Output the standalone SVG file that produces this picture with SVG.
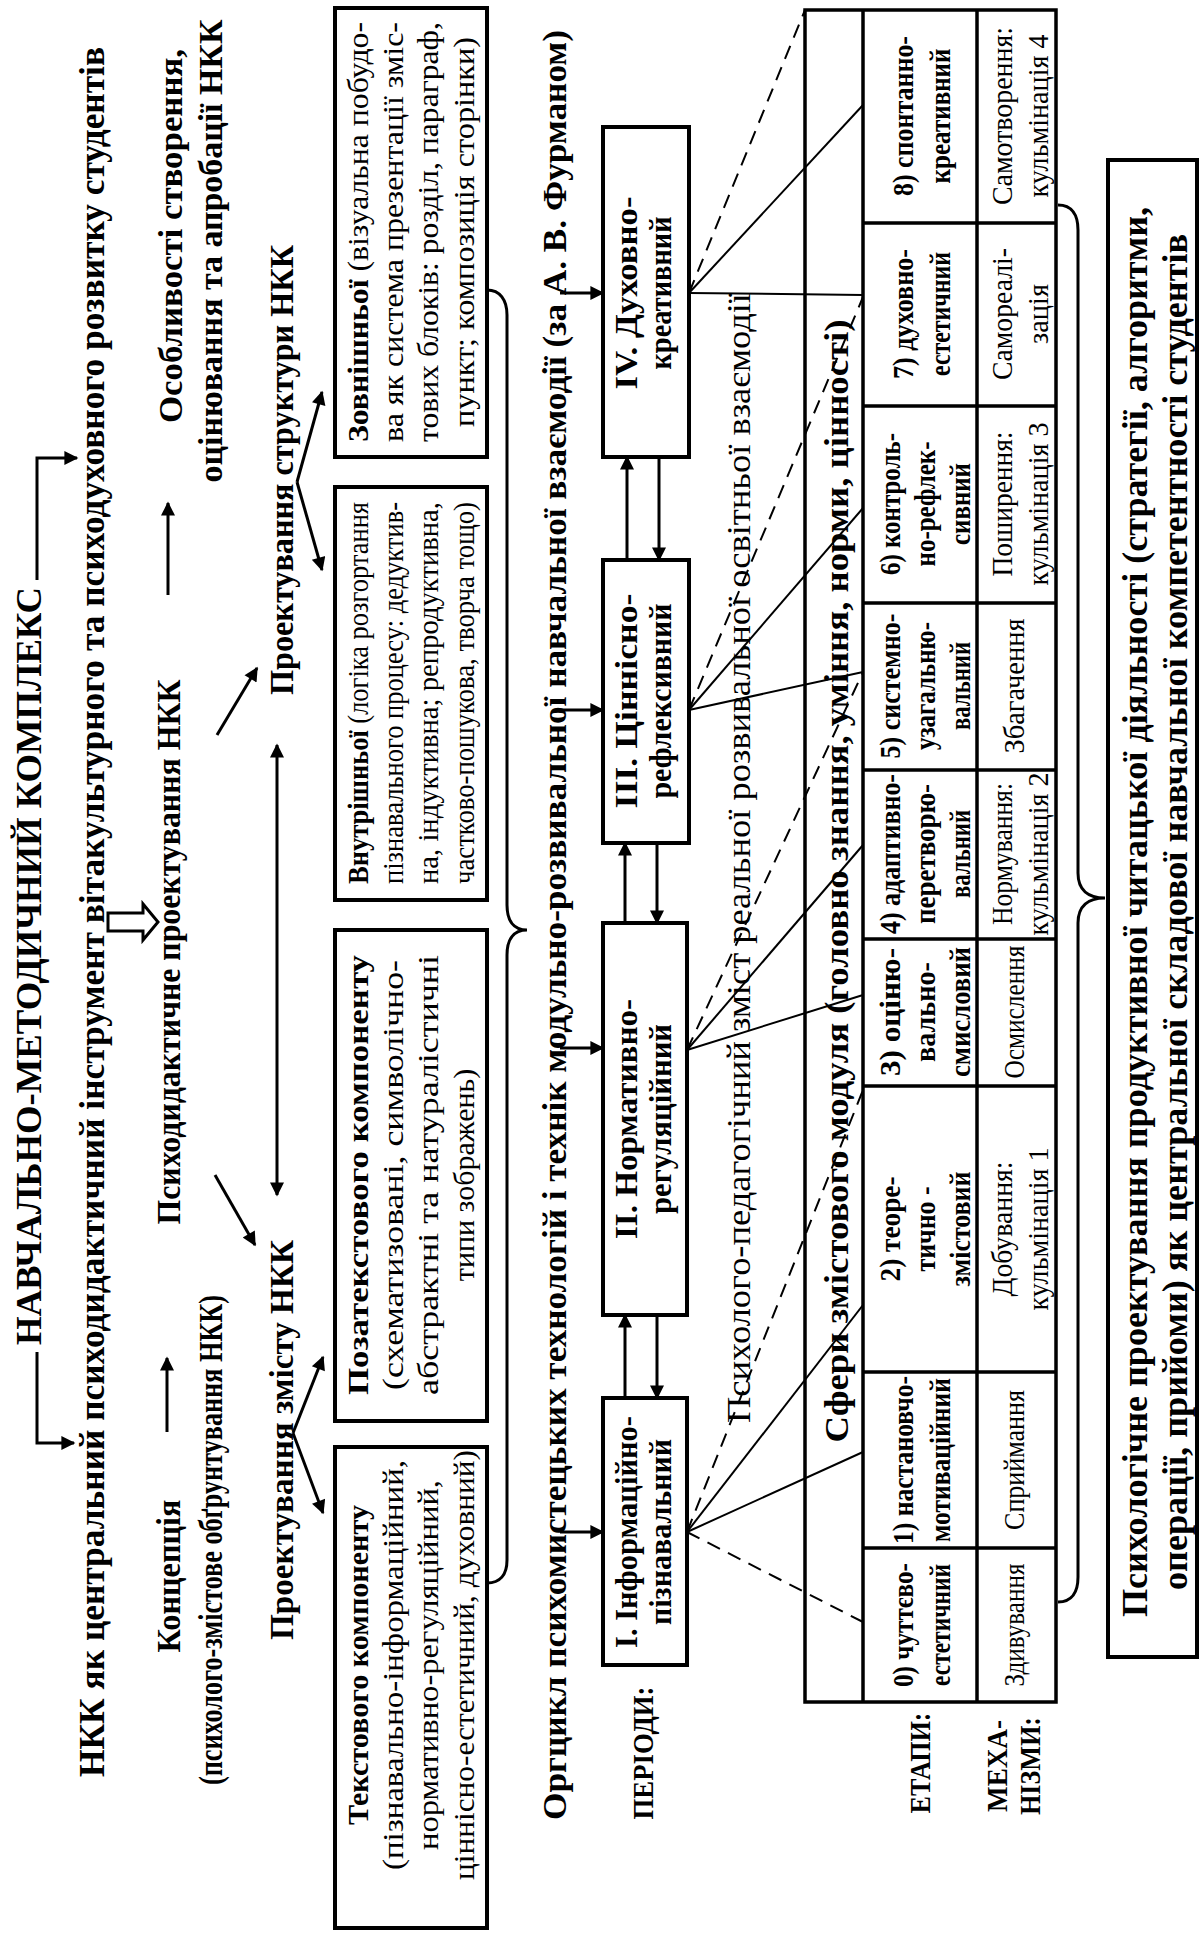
<svg xmlns="http://www.w3.org/2000/svg" width="1202" height="1943" viewBox="0 0 1202 1943">
<style>
text{text-anchor:middle;font-family:"Liberation Serif","Times New Roman",serif;fill:#000}
.b{font-weight:bold}
.box{fill:#fff;stroke:#000;stroke-width:4}
.ln{fill:none;stroke:#000;stroke-width:3}
.ar{fill:none;stroke:#000;stroke-width:3;marker-end:url(#ah)}
.fan{fill:none;stroke:#000;stroke-width:2}
.dash{fill:none;stroke:#000;stroke-width:2;stroke-dasharray:14 9}
.tb{fill:none;stroke:#000;stroke-width:3.5}
</style>
<defs>
<marker id="ah" viewBox="0 0 10 10" refX="9" refY="5" markerWidth="17" markerHeight="14" markerUnits="userSpaceOnUse" orient="auto-start-reverse"><path d="M0,0 L10,5 L0,10 z" fill="#000"/></marker>
</defs>
<rect width="1202" height="1943" fill="#fff"/>

<g id="connectors">
<polyline class="ar" points="37,580 37,458 77,458"/>
<polyline class="ar" points="37,1352 37,1443 74,1443"/>
<polygon points="108,913 143,913 143,904 158,922 143,940 143,931 108,931" fill="#fff" stroke="#000" stroke-width="3"/>
<line class="ar" x1="167" y1="1432" x2="167" y2="1358"/>
<line class="ar" x1="168" y1="595" x2="168" y2="503"/>
<line class="ar" x1="217" y1="735" x2="257" y2="668"/>
<line class="ar" x1="215" y1="1175" x2="255" y2="1245"/>
<line class="ar" x1="277" y1="745" x2="277" y2="1195" marker-start="url(#ah)"/>
<line class="ar" x1="293" y1="1433" x2="323" y2="1357"/>
<line class="ar" x1="293" y1="1433" x2="323" y2="1513"/>
<line class="ar" x1="297" y1="482" x2="322" y2="392"/>
<line class="ar" x1="297" y1="482" x2="322" y2="570"/>
<path class="ln" d="M487,290 C500,290 507,300 507,315 L507,905 C507,920 513,930 527,930 C513,930 507,940 507,955 L507,1560 C507,1575 500,1583 487,1583"/>
<line class="ar" x1="560" y1="1532" x2="603" y2="1532"/>
<line class="ar" x1="560" y1="1048" x2="603" y2="1048"/>
<line class="ar" x1="560" y1="710" x2="603" y2="710"/>
<line class="ar" x1="560" y1="293" x2="603" y2="293"/>
<line class="ar" x1="625" y1="1398" x2="625" y2="1315"/>
<line class="ar" x1="657" y1="1315" x2="657" y2="1398"/>
<line class="ar" x1="625" y1="923" x2="625" y2="843"/>
<line class="ar" x1="657" y1="843" x2="657" y2="923"/>
<line class="ar" x1="627" y1="560" x2="627" y2="457"/>
<line class="ar" x1="659" y1="457" x2="659" y2="560"/>
<line class="dash" x1="689" y1="293" x2="805" y2="10"/>
<line class="fan" x1="689" y1="293" x2="863" y2="105"/>
<line class="fan" x1="689" y1="293" x2="863" y2="295"/>
<line class="dash" x1="689" y1="710" x2="863" y2="297"/>
<line class="fan" x1="689" y1="710" x2="863" y2="508"/>
<line class="fan" x1="689" y1="710" x2="863" y2="672"/>
<line class="dash" x1="687" y1="1050" x2="863" y2="672"/>
<line class="fan" x1="687" y1="1050" x2="863" y2="845"/>
<line class="fan" x1="687" y1="1050" x2="863" y2="995"/>
<line class="dash" x1="687" y1="1532" x2="863" y2="1090"/>
<line class="fan" x1="687" y1="1532" x2="863" y2="1305"/>
<line class="fan" x1="687" y1="1532" x2="863" y2="1452"/>
<line class="dash" x1="687" y1="1532" x2="863" y2="1622"/>
<path class="ln" d="M1058,205 C1072,205 1078,215 1078,230 L1078,873 C1078,890 1088,898 1105,898 C1088,898 1078,906 1078,923 L1078,1577 C1078,1592 1072,1602 1058,1602"/>
</g>

<g id="title">
<text class="b" font-size="36" transform="translate(41,966) rotate(-90)" textLength="758" lengthAdjust="spacingAndGlyphs">НАВЧАЛЬНО-МЕТОДИЧНИЙ КОМПЛЕКС</text>
</g>
<g id="nkk">
<text class="b" font-size="36" transform="translate(104,912) rotate(-90)" textLength="1730" lengthAdjust="spacingAndGlyphs">НКК як центральний психодидактичний інструмент вітакультурного та психодуховного розвитку студентів</text>
</g>
<g id="concept">
<text class="b" font-size="34" transform="translate(180,1576) rotate(-90)" textLength="153" lengthAdjust="spacingAndGlyphs">Концепція</text>
<text class="b" font-size="33" transform="translate(222,1540) rotate(-90)" textLength="490" lengthAdjust="spacingAndGlyphs">(психолого-змістове обґрунтування НКК)</text>
</g>
<g id="psychodidactic">
<text class="b" font-size="34" transform="translate(180,952) rotate(-90)" textLength="545" lengthAdjust="spacingAndGlyphs">Психодидактичне проектування НКК</text>
</g>
<g id="features">
<text class="b" font-size="34" transform="translate(182,236) rotate(-90)" textLength="374" lengthAdjust="spacingAndGlyphs">Особливості створення,</text>
<text class="b" font-size="34" transform="translate(222,251) rotate(-90)" textLength="463" lengthAdjust="spacingAndGlyphs">оцінювання та апробації НКК</text>
</g>
<g id="design-content">
<text class="b" font-size="34" transform="translate(293,1440) rotate(-90)" textLength="400" lengthAdjust="spacingAndGlyphs">Проектування змісту НКК</text>
</g>
<g id="design-structure">
<text class="b" font-size="34" transform="translate(293,470) rotate(-90)" textLength="450" lengthAdjust="spacingAndGlyphs">Проектування структури НКК</text>
</g>

<g id="box-external">
<rect class="box" x="335" y="8" width="152" height="449"/>
<text font-size="30" transform="translate(368,232) rotate(-90)" textLength="420" lengthAdjust="spacingAndGlyphs"><tspan class="b">Зовнішньої</tspan> (візуальна побудо-</text>
<text font-size="30" transform="translate(403,232) rotate(-90)" textLength="420" lengthAdjust="spacingAndGlyphs">ва як система презентації зміс-</text>
<text font-size="30" transform="translate(438,232) rotate(-90)" textLength="420" lengthAdjust="spacingAndGlyphs">тових блоків: розділ, параграф,</text>
<text font-size="30" transform="translate(474,232) rotate(-90)" textLength="390" lengthAdjust="spacingAndGlyphs">пункт; композиція сторінки)</text>
</g>
<g id="box-internal">
<rect class="box" x="335" y="487" width="152" height="413"/>
<text font-size="29" transform="translate(368,693) rotate(-90)" textLength="382" lengthAdjust="spacingAndGlyphs"><tspan class="b">Внутрішньої</tspan> (логіка розгортання</text>
<text font-size="29" transform="translate(403,693) rotate(-90)" textLength="382" lengthAdjust="spacingAndGlyphs">пізнавального процесу: дедуктив-</text>
<text font-size="29" transform="translate(438,693) rotate(-90)" textLength="382" lengthAdjust="spacingAndGlyphs">на, індуктивна; репродуктивна,</text>
<text font-size="29" transform="translate(474,693) rotate(-90)" textLength="382" lengthAdjust="spacingAndGlyphs">частково-пошукова, творча тощо)</text>
</g>
<g id="box-nontext">
<rect class="box" x="335" y="930" width="152" height="491"/>
<text class="b" font-size="30" transform="translate(368,1175) rotate(-90)" textLength="440" lengthAdjust="spacingAndGlyphs">Позатекстового компоненту</text>
<text font-size="30" transform="translate(403,1175) rotate(-90)" textLength="430" lengthAdjust="spacingAndGlyphs">(схематизовані, символічно-</text>
<text font-size="30" transform="translate(438,1175) rotate(-90)" textLength="440" lengthAdjust="spacingAndGlyphs">абстрактні та натуралістичні</text>
<text font-size="30" transform="translate(474,1175) rotate(-90)">типи зображень)</text>
</g>
<g id="box-text">
<rect class="box" x="335" y="1447" width="152" height="481"/>
<text class="b" font-size="30" transform="translate(368,1665) rotate(-90)" textLength="320" lengthAdjust="spacingAndGlyphs">Текстового компоненту</text>
<text font-size="30" transform="translate(403,1665) rotate(-90)" textLength="410" lengthAdjust="spacingAndGlyphs">(пізнавально-інформаційний,</text>
<text font-size="30" transform="translate(438,1665) rotate(-90)" textLength="370" lengthAdjust="spacingAndGlyphs">нормативно-регуляційний,</text>
<text font-size="30" transform="translate(474,1665) rotate(-90)" textLength="430" lengthAdjust="spacingAndGlyphs">ціннісно-естетичний, духовний)</text>
</g>

<g id="orgcycle">
<text class="b" font-size="34" transform="translate(566,925) rotate(-90)" textLength="1790" lengthAdjust="spacingAndGlyphs">Оргцикл психомистецьких технологій і технік модульно-розвивальної навчальної взаємодії (за А. В. Фурманом)</text>
<text class="b" font-size="30" transform="translate(653,1753) rotate(-90)" textLength="133" lengthAdjust="spacingAndGlyphs">ПЕРІОДИ:</text>
</g>
<g id="period-1">
<rect class="box" x="603" y="1398" width="84" height="267"/>
<text class="b" font-size="32" transform="translate(637,1532) rotate(-90)" textLength="232" lengthAdjust="spacingAndGlyphs">I. Інформаційно-</text>
<text class="b" font-size="32" transform="translate(671,1532) rotate(-90)" textLength="186" lengthAdjust="spacingAndGlyphs">пізнавальний</text>
</g>
<g id="period-2">
<rect class="box" x="603" y="923" width="84" height="392"/>
<text class="b" font-size="32" transform="translate(637,1119) rotate(-90)" textLength="240" lengthAdjust="spacingAndGlyphs">II. Нормативно-</text>
<text class="b" font-size="32" transform="translate(671,1119) rotate(-90)" textLength="190" lengthAdjust="spacingAndGlyphs">регуляційний</text>
</g>
<g id="period-3">
<rect class="box" x="603" y="560" width="86" height="283"/>
<text class="b" font-size="32" transform="translate(637,701) rotate(-90)" textLength="215" lengthAdjust="spacingAndGlyphs">III. Ціннісно-</text>
<text class="b" font-size="32" transform="translate(671,701) rotate(-90)" textLength="195" lengthAdjust="spacingAndGlyphs">рефлексивний</text>
</g>
<g id="period-4">
<rect class="box" x="603" y="127" width="86" height="330"/>
<text class="b" font-size="32" transform="translate(637,293) rotate(-90)" textLength="193" lengthAdjust="spacingAndGlyphs">IV. Духовно-</text>
<text class="b" font-size="32" transform="translate(671,293) rotate(-90)" textLength="153" lengthAdjust="spacingAndGlyphs">креативний</text>
</g>
<g id="psych-content">
<text font-size="33" transform="translate(750,858) rotate(-90)" textLength="1130" lengthAdjust="spacingAndGlyphs">Психолого-педагогічний зміст реальної розвивальної освітньої взаємодії</text>
</g>

<g id="table">
<rect class="tb" x="805" y="10" width="251" height="1692"/>
<line class="tb" x1="863" y1="10" x2="863" y2="1702"/>
<line class="tb" x1="977" y1="10" x2="977" y2="1702"/>
<path class="tb" d="M863,223 H1056 M863,406 H1056 M863,603 H1056 M863,770 H1056 M863,939 H1056 M863,1086 H1056 M863,1372 H1056 M863,1548 H1056"/>
<text class="b" font-size="33" transform="translate(848,881) rotate(-90)" textLength="1123" lengthAdjust="spacingAndGlyphs">Сфери змістового модуля (головно знання, уміння, норми, цінності)</text>

<text class="b" font-size="30" transform="translate(913,116) rotate(-90)" textLength="160" lengthAdjust="spacingAndGlyphs">8) спонтанно-</text>
<text class="b" font-size="30" transform="translate(950,116) rotate(-90)" textLength="135" lengthAdjust="spacingAndGlyphs">креативний</text>
<text class="b" font-size="30" transform="translate(913,314) rotate(-90)" textLength="130" lengthAdjust="spacingAndGlyphs">7) духовно-</text>
<text class="b" font-size="30" transform="translate(950,314) rotate(-90)" textLength="124" lengthAdjust="spacingAndGlyphs">естетичний</text>
<text class="b" font-size="30" transform="translate(900,504) rotate(-90)" textLength="142" lengthAdjust="spacingAndGlyphs">6) контроль-</text>
<text class="b" font-size="30" transform="translate(935,504) rotate(-90)" textLength="125" lengthAdjust="spacingAndGlyphs">но-рефлек-</text>
<text class="b" font-size="30" transform="translate(970,504) rotate(-90)" textLength="82" lengthAdjust="spacingAndGlyphs">сивний</text>
<text class="b" font-size="30" transform="translate(900,686) rotate(-90)" textLength="145" lengthAdjust="spacingAndGlyphs">5) системно-</text>
<text class="b" font-size="30" transform="translate(935,686) rotate(-90)" textLength="128" lengthAdjust="spacingAndGlyphs">узагальню-</text>
<text class="b" font-size="30" transform="translate(970,686) rotate(-90)" textLength="88" lengthAdjust="spacingAndGlyphs">вальний</text>
<text class="b" font-size="30" transform="translate(900,854) rotate(-90)" textLength="160" lengthAdjust="spacingAndGlyphs">4) адаптивно-</text>
<text class="b" font-size="30" transform="translate(935,854) rotate(-90)" textLength="140" lengthAdjust="spacingAndGlyphs">перетворю-</text>
<text class="b" font-size="30" transform="translate(970,854) rotate(-90)" textLength="88" lengthAdjust="spacingAndGlyphs">вальний</text>
<text class="b" font-size="30" transform="translate(900,1012) rotate(-90)" textLength="128" lengthAdjust="spacingAndGlyphs">3) оціню-</text>
<text class="b" font-size="30" transform="translate(935,1012) rotate(-90)" textLength="100" lengthAdjust="spacingAndGlyphs">вально-</text>
<text class="b" font-size="30" transform="translate(970,1012) rotate(-90)" textLength="130" lengthAdjust="spacingAndGlyphs">смисловий</text>
<text class="b" font-size="30" transform="translate(900,1229) rotate(-90)" textLength="105" lengthAdjust="spacingAndGlyphs">2) теоре-</text>
<text class="b" font-size="30" transform="translate(935,1229) rotate(-90)" textLength="85" lengthAdjust="spacingAndGlyphs">тично -</text>
<text class="b" font-size="30" transform="translate(970,1229) rotate(-90)" textLength="115" lengthAdjust="spacingAndGlyphs">змістовий</text>
<text class="b" font-size="30" transform="translate(913,1460) rotate(-90)" textLength="168" lengthAdjust="spacingAndGlyphs">1) настановчо-</text>
<text class="b" font-size="30" transform="translate(950,1460) rotate(-90)" textLength="164" lengthAdjust="spacingAndGlyphs">мотиваційний</text>
<text class="b" font-size="30" transform="translate(913,1625) rotate(-90)" textLength="124" lengthAdjust="spacingAndGlyphs">0) чуттєво-</text>
<text class="b" font-size="30" transform="translate(950,1625) rotate(-90)" textLength="122" lengthAdjust="spacingAndGlyphs">естетичний</text>

<text font-size="30" transform="translate(1012,116) rotate(-90)" textLength="178" lengthAdjust="spacingAndGlyphs">Самотворення:</text>
<text font-size="30" transform="translate(1048,116) rotate(-90)" textLength="163" lengthAdjust="spacingAndGlyphs">кульмінація 4</text>
<text font-size="30" transform="translate(1012,314) rotate(-90)" textLength="132" lengthAdjust="spacingAndGlyphs">Самореалі-</text>
<text font-size="30" transform="translate(1048,314) rotate(-90)" textLength="60" lengthAdjust="spacingAndGlyphs">зація</text>
<text font-size="30" transform="translate(1012,504) rotate(-90)" textLength="145" lengthAdjust="spacingAndGlyphs">Поширення:</text>
<text font-size="30" transform="translate(1048,504) rotate(-90)" textLength="163" lengthAdjust="spacingAndGlyphs">кульмінація 3</text>
<text font-size="30" transform="translate(1024,686) rotate(-90)" textLength="135" lengthAdjust="spacingAndGlyphs">Збагачення</text>
<text font-size="30" transform="translate(1012,854) rotate(-90)" textLength="142" lengthAdjust="spacingAndGlyphs">Нормування:</text>
<text font-size="30" transform="translate(1048,854) rotate(-90)" textLength="163" lengthAdjust="spacingAndGlyphs">кульмінація 2</text>
<text font-size="30" transform="translate(1024,1012) rotate(-90)" textLength="133" lengthAdjust="spacingAndGlyphs">Осмислення</text>
<text font-size="30" transform="translate(1012,1229) rotate(-90)" textLength="135" lengthAdjust="spacingAndGlyphs">Добування:</text>
<text font-size="30" transform="translate(1048,1229) rotate(-90)" textLength="163" lengthAdjust="spacingAndGlyphs">кульмінація 1</text>
<text font-size="30" transform="translate(1024,1460) rotate(-90)" textLength="140" lengthAdjust="spacingAndGlyphs">Сприймання</text>
<text font-size="30" transform="translate(1024,1625) rotate(-90)" textLength="123" lengthAdjust="spacingAndGlyphs">Здивування</text>
</g>

<g id="labels">
<text class="b" font-size="30" transform="translate(930,1763) rotate(-90)" textLength="101" lengthAdjust="spacingAndGlyphs">ЕТАПИ:</text>
<text class="b" font-size="30" transform="translate(1007,1766) rotate(-90)" textLength="92" lengthAdjust="spacingAndGlyphs">МЕХА-</text>
<text class="b" font-size="30" transform="translate(1040,1766) rotate(-90)" textLength="98" lengthAdjust="spacingAndGlyphs">НІЗМИ:</text>
</g>

<g id="result-box">
<rect class="box" x="1108" y="160" width="89" height="1497"/>
<text class="b" font-size="35" transform="translate(1147,912) rotate(-90)" textLength="1410" lengthAdjust="spacingAndGlyphs">Психологічне проектування продуктивної читацької діяльності (стратегії, алгоритми,</text>
<text class="b" font-size="35" transform="translate(1187,912) rotate(-90)" textLength="1356" lengthAdjust="spacingAndGlyphs">операції, прийоми) як центральної складової навчальної компетентності студентів</text>
</g>
</svg>
